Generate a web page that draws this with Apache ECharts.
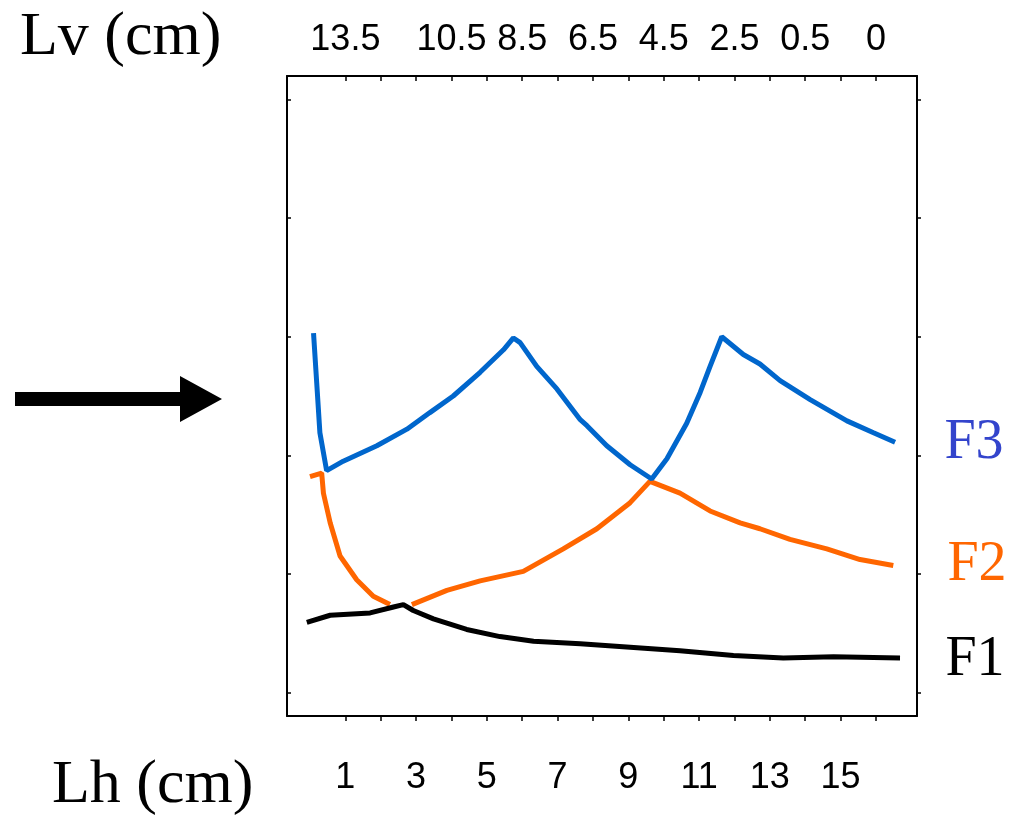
<!DOCTYPE html>
<html>
<head>
<meta charset="utf-8">
<script src="https://cdn.jsdelivr.net/npm/echarts@6/dist/echarts.min.js"></script>
<style>
html,body{margin:0;padding:0;background:#fff;}
#chart{width:1024px;height:818px;}
</style>
</head>
<body>
<div id="chart"></div>
<script>
// Lh (cm) axis ticks and labels
const lhTicks = [1,2,3,4,5,6,7,8,9,10,11,12,13,14,15,16];
const lhLabels = [1,3,5,7,9,11,13,15];
// Lv (cm) labels placed at Lh positions
const lvPositions = [1,4,6,8,10,12,14,16];
const lvLabels = ['13.5','10.5','8.5','6.5','4.5','2.5','0.5','0'];
// frequency ticks
const freqTicks = [0,1,2,3,4,5];

// F3
const f3X = [0.10,0.19,0.28,0.47,0.94,1.89,2.74,3.39,4.05,4.81,5.47,5.75,5.94,6.41,6.98,7.64,7.83,8.39,9.05,9.66,10.09,10.65,11.03,11.31,11.64,12.25,12.72,13.29,14.14,15.18,15.93,16.54];
const f3Y = [3.03,2.61,2.19,1.87,1.95,2.08,2.22,2.36,2.50,2.70,2.89,2.99,2.95,2.75,2.56,2.30,2.25,2.08,1.92,1.80,1.97,2.27,2.53,2.75,3.00,2.85,2.77,2.63,2.47,2.29,2.19,2.11];
// F2
const f2X = [0.00,0.33,0.38,0.57,0.85,1.32,1.79,2.26,2.55,2.88,3.87,4.81,6.03,7.16,8.11,9.05,9.61,10.46,11.31,12.16,12.72,13.57,14.61,15.55,16.49];
const f2Y = [1.82,1.85,1.68,1.43,1.15,0.95,0.81,0.74,null,0.74,0.86,0.94,1.02,1.21,1.38,1.60,1.78,1.68,1.53,1.43,1.38,1.29,1.21,1.12,1.07];
// F1
const f1X = [-0.09,0.57,1.70,2.36,2.64,2.92,3.49,4.43,5.37,6.32,7.64,9.05,10.46,11.97,13.38,14.80,16.68];
const f1Y = [0.59,0.65,0.67,0.72,0.74,0.69,0.62,0.53,0.47,0.43,0.41,0.38,0.35,0.31,0.29,0.30,0.29];

function pairs(xs, ys){ return xs.map((x,i)=>[x, ys[i]==null ? '-' : ys[i]]); }

const chart = echarts.init(document.getElementById('chart'), null, {renderer:'canvas'});
const axLine = {show:true, onZero:false, lineStyle:{color:'#000', width:2}};
const X_MIN = -0.65, X_MAX = 17.16, Y_MIN = -0.2, Y_MAX = 5.2;

chart.setOption({
  animation:false,
  backgroundColor:'#fff',
  grid:{left:287, right:107, top:76, bottom:102, containLabel:false},
  xAxis:[
    {type:'value', position:'bottom', min:X_MIN, max:X_MAX,
     axisLine:axLine, splitLine:{show:false},
     axisTick:{show:true, customValues:lhTicks, length:5, lineStyle:{color:'#000', width:1.5}},
     axisLabel:{show:true, customValues:lhLabels, margin:44, fontSize:36, color:'#000', fontFamily:'Liberation Sans'}},
    {type:'value', position:'top', min:X_MIN, max:X_MAX,
     axisLine:axLine, splitLine:{show:false},
     axisTick:{show:true, inside:true, customValues:lhTicks, length:5, lineStyle:{color:'#000', width:1.5}},
     axisLabel:{show:true, customValues:lvPositions, margin:18, fontSize:36, color:'#000', fontFamily:'Liberation Sans',
       formatter:function(v){ const i = lvPositions.indexOf(Math.round(v)); return i>=0 ? lvLabels[i] : ''; }}}
  ],
  yAxis:[
    {type:'value', position:'right', min:Y_MIN, max:Y_MAX,
     axisLine:axLine, splitLine:{show:false},
     axisTick:{show:true, customValues:freqTicks, length:4, lineStyle:{color:'#000', width:1.5}},
     axisLabel:{show:false}},
    {type:'value', position:'left', min:Y_MIN, max:Y_MAX,
     axisLine:axLine, splitLine:{show:false},
     axisTick:{show:true, inside:true, customValues:freqTicks, length:4, lineStyle:{color:'#000', width:1.5}},
     axisLabel:{show:false}}
  ],
  series:[
    {name:'F1', type:'line', data:pairs(f1X,f1Y), showSymbol:false, symbol:'none',
     lineStyle:{color:'#000', width:5}, xAxisIndex:0, yAxisIndex:0, z:3},
    {name:'F2', type:'line', data:pairs(f2X,f2Y), showSymbol:false, symbol:'none', connectNulls:false,
     lineStyle:{color:'#FF6600', width:5}, xAxisIndex:0, yAxisIndex:0, z:2},
    {name:'F3', type:'line', data:pairs(f3X,f3Y), showSymbol:false, symbol:'none',
     lineStyle:{color:'#0066CC', width:5}, xAxisIndex:0, yAxisIndex:0, z:2}
  ],
  graphic:[
    {type:'text', style:{x:20, y:38, text:'Lv (cm)', font:'62px "Liberation Serif"', fill:'#000', textAlign:'left', textVerticalAlign:'middle'}},
    {type:'text', style:{x:52, y:786, text:'Lh (cm)', font:'62px "Liberation Serif"', fill:'#000', textAlign:'left', textVerticalAlign:'middle'}},
    {type:'text', style:{x:974, y:443, text:'F3', font:'56px "Liberation Serif"', fill:'#3344CC', textAlign:'center', textVerticalAlign:'middle'}},
    {type:'text', style:{x:977, y:565, text:'F2', font:'56px "Liberation Serif"', fill:'#FF6600', textAlign:'center', textVerticalAlign:'middle'}},
    {type:'text', style:{x:975, y:660, text:'F1', font:'56px "Liberation Serif"', fill:'#000', textAlign:'center', textVerticalAlign:'middle'}},
    {type:'polygon', shape:{points:[[15,392],[180,392],[180,376],[222,399],[180,422],[180,406],[15,406]]}, style:{fill:'#000'}}
  ]
});
</script>
</body>
</html>
